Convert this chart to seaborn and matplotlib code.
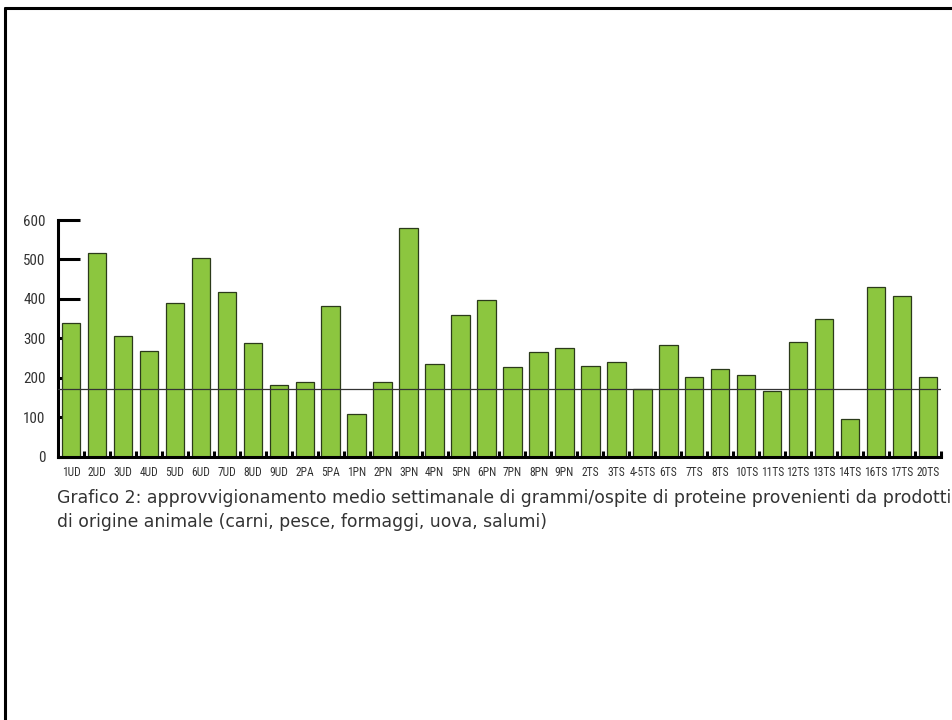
import matplotlib
matplotlib.use("Agg")
import matplotlib.pyplot as plt
from matplotlib import font_manager
import seaborn as sns
import pandas as pd
from matplotlib.lines import Line2D

categories = ["1UD", "2UD", "3UD", "4UD", "5UD", "6UD", "7UD", "8UD", "9UD",
              "2PA", "5PA", "1PN", "2PN", "3PN", "4PN", "5PN", "6PN", "7PN",
              "8PN", "9PN", "2TS", "3TS", "4-5TS", "6TS", "7TS", "8TS", "10TS",
              "11TS", "12TS", "13TS", "14TS", "16TS", "17TS", "20TS"]
values = [339, 517, 305, 268, 389, 503, 417, 288, 181,
          188, 382, 109, 190, 580, 235, 358, 398, 228,
          264, 274, 230, 241, 170, 284, 202, 221, 207,
          167, 290, 349, 95, 430, 407, 202]
reference_value = 171
y_ticks = [0, 100, 200, 300, 400, 500, 600]
caption_lines = ["Grafico 2: approvvigionamento medio settimanale di grammi/ospite di proteine provenienti da prodotti",
                 "di origine animale (carni, pesce, formaggi, uova, salumi)"]

sns.set_style("white")

available = {f.name for f in font_manager.fontManager.ttflist}
narrow_font, label_size = "DejaVu Sans", 6.3
for cand, size in [("Liberation Sans Narrow", 8.5), ("DejaVu Sans Condensed", 7.2),
                   ("Roboto Condensed", 8.3), ("Open Sans Condensed", 8.3)]:
    if cand in available:
        narrow_font, label_size = cand, size
        break
narrow = [narrow_font, "DejaVu Sans"]

df = pd.DataFrame({"cat": categories, "val": values})

W, H = 953, 720
fig = plt.figure(figsize=(W / 100, H / 100), dpi=100)
ax = fig.add_axes([58 / W, (H - 456.5) / H, 883 / W, 236.5 / H])

sns.barplot(data=df, x="cat", y="val", ax=ax, color="#8CC63F", saturation=1,
            width=0.71, edgecolor="#2b3a1a", linewidth=0.9)
ax.set_axisbelow(True)
ax.axhline(reference_value, color="#333333", linewidth=0.9, zorder=3)

ax.set_xlim(-0.5, len(categories) - 0.5)
ax.set_ylim(0, 600)
ax.set_yticks(y_ticks)
ax.set_yticklabels([str(t) for t in y_ticks], family=narrow, fontsize=label_size * 1.3,
                   color="#333333")
ax.set_xticks(range(len(categories)))
ax.set_xticklabels(categories, family=narrow, fontsize=label_size, color="#333333")
ax.tick_params(axis="y", left=True, direction="in", length=16, width=2.2, color="black", pad=9)
ax.tick_params(axis="x", which="major", bottom=True, length=0, pad=7)
ax.set_xticks([i + 0.5 for i in range(len(categories))], minor=True)
ax.tick_params(axis="x", which="minor", bottom=True, direction="in", length=4.5, width=2.2, color="black")
ax.set_xlabel("")
ax.set_ylabel("")

for s in ["top", "right"]:
    ax.spines[s].set_visible(False)
for s in ["left", "bottom"]:
    ax.spines[s].set_color("black")
    ax.spines[s].set_linewidth(2.2)

for i, line in enumerate(caption_lines):
    fig.text(57 / W, 1 - (498 + 24 * i) / H, line, fontsize=12.4, color="#333333",
             family="DejaVu Sans", va="center", ha="left")

# page frame
fig.add_artist(Line2D([5 / W, 1.0], [1 - 8 / H, 1 - 8 / H], color="black", linewidth=2.2,
                      transform=fig.transFigure))
fig.add_artist(Line2D([5 / W, 5 / W], [1 - 8 / H, 0.0], color="black", linewidth=2.2,
                      transform=fig.transFigure))

fig.savefig("out.png", dpi=100)
